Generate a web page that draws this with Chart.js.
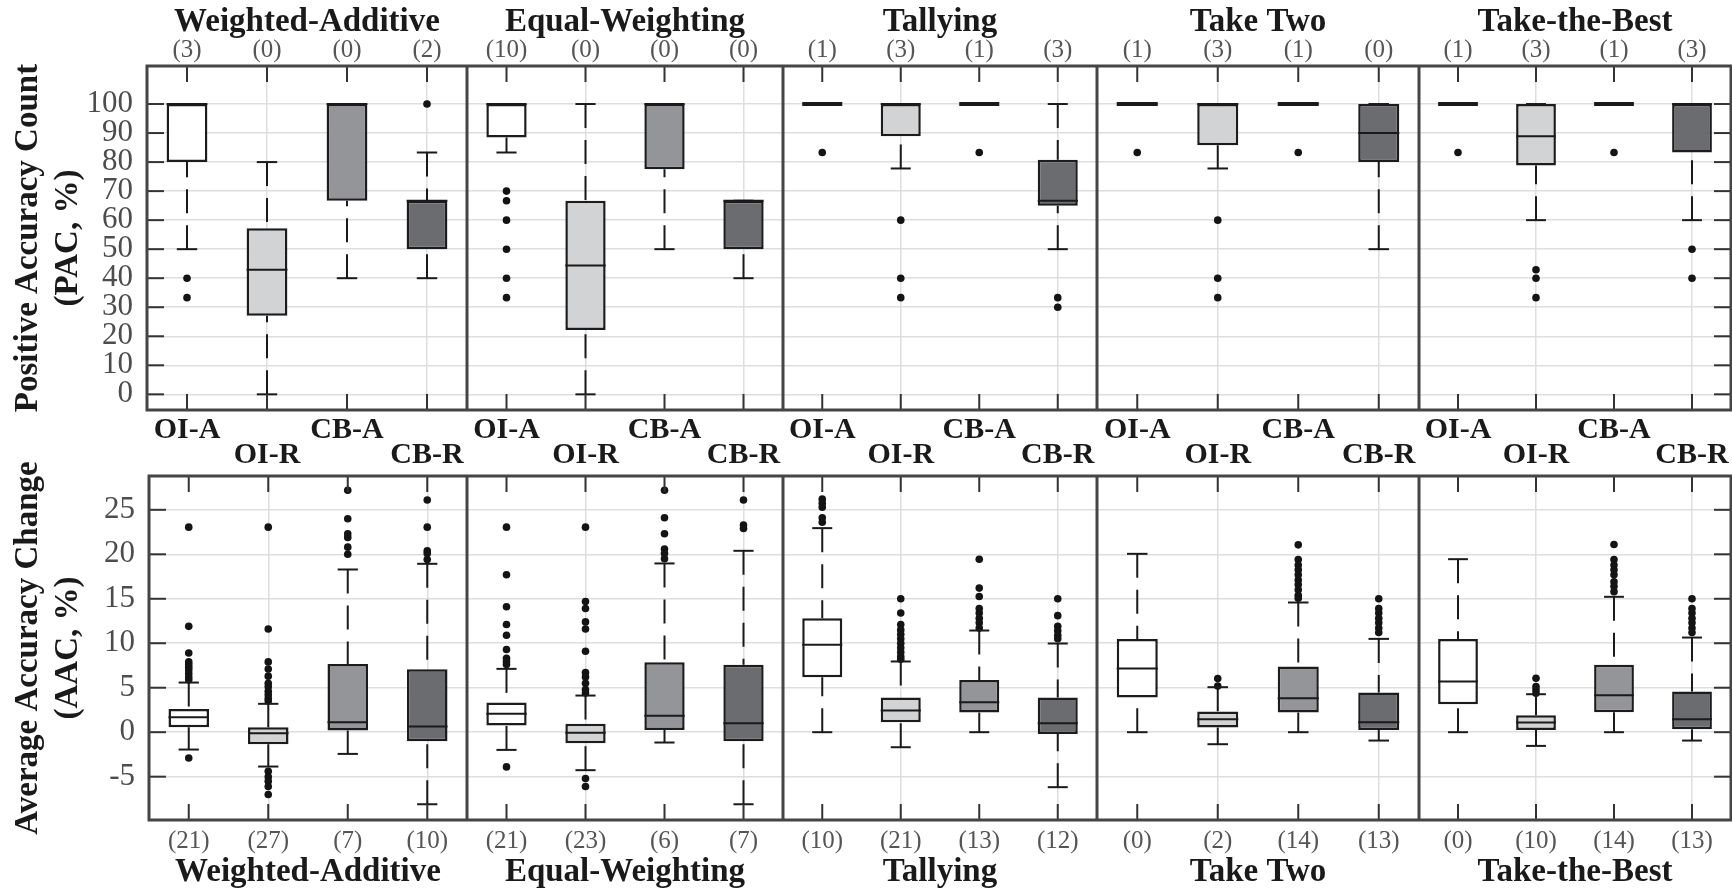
<!DOCTYPE html>
<html>
<head>
<meta charset="utf-8">
<title>PAC / AAC box plots</title>
<script src="https://cdn.jsdelivr.net/npm/chart.js@4.4.1/dist/chart.umd.min.js"></script>
<style>
  html, body { margin: 0; padding: 0; background: #fff; }
  #wrap { position: relative; width: 1732px; height: 890px; overflow: hidden; }
  #wrap canvas { position: absolute; }
</style>
</head>
<body>
<div id="wrap"></div>
<script>
// ---- data ----
const methods = ['Weighted-Additive', 'Equal-Weighting', 'Tallying', 'Take Two', 'Take-the-Best'];
const conditions = ['OI-A', 'OI-R', 'CB-A', 'CB-R'];

// Positive Accuracy Count (top row), one inner array per method
const pacTicks = [0, 10, 20, 30, 40, 50, 60, 70, 80, 90, 100];
const pacQ1 = [[80, 27.1, 66.7, 50], [88.5, 22.2, 77.5, 50], [100, 88.9, 100, 65], [100, 85.8, 100, 80], [100, 78.8, 100, 83.3]];
const pacMedian = [[100, 42.9, 100, 66.7], [100, 44.4, 100, 66.7], [100, 100, 100, 66.7], [100, 100, 100, 90], [100, 88.9, 100, 100]];
const pacQ3 = [[100, 57.2, 100, 66.7], [100, 66.7, 100, 66.7], [100, 100, 100, 80.8], [100, 100, 100, 100], [100, 100, 100, 100]];
const pacLow = [[50, 0, 40, 40], [83.3, 0, 50, 40], [100, 77.8, 100, 50], [100, 77.8, 100, 50], [100, 60, 100, 60]];
const pacHigh = [[100, 80, 100, 83.3], [100, 100, 100, 66.7], [100, 100, 100, 100], [100, 100, 100, 100], [100, 100, 100, 100]];
const pacOutliers = [
  [[40, 33.3], [], [], [100]],
  [[70, 66.7, 60, 50, 40, 33.3], [], [], []],
  [[83.3], [60, 40, 33.3], [83.3], [33.3, 30]],
  [[83.3], [60, 40, 33.3], [83.3], []],
  [[83.3], [42.9, 40, 33.3], [83.3], [50, 40]]
];
const pacCounts = [[3, 0, 0, 2], [10, 0, 0, 0], [1, 3, 1, 3], [1, 3, 1, 0], [1, 3, 1, 3]];

// Average Accuracy Change (bottom row)
const aacTicks = [-5, 0, 5, 10, 15, 20, 25];
const aacQ1 = [[0.56, -1.35, 0.19, -1.01], [0.75, -1.24, 0.26, -1.01], [6.18, 1.12, 2.21, -0.19], [3.9, 0.52, 2.21, 0.26], [3.15, 0.26, 2.25, 0.34]];
const aacMedian = [[1.69, -0.11, 1.12, 0.64], [2.06, -0.07, 1.84, 1.01], [9.82, 2.44, 3.37, 1.01], [7.16, 1.46, 3.82, 1.12], [5.7, 1.09, 4.16, 1.46]];
const aacQ3 = [[2.62, 0.56, 7.68, 7.08], [3.34, 0.94, 7.87, 7.57], [12.82, 3.9, 5.88, 3.9], [10.49, 2.32, 7.38, 4.46], [10.49, 1.91, 7.57, 4.57]];
const aacLow = [[-1.95, -3.86, -2.44, -8.1], [-1.99, -4.27, -1.16, -8.1], [0, -1.69, 0, -6.18], [0, -1.35, 0, -0.94], [0, -1.54, 0, -0.94]];
const aacHigh = [[5.58, 3.19, 18.29, 18.93], [7.12, 4.12, 18.97, 20.39], [22.94, 7.95, 11.43, 9.97], [20.05, 5.06, 14.58, 10.49], [19.45, 4.27, 15.22, 10.64]];
const aacOutliers = [
  [[23.05, 11.9, 8.9, 7.9, 7.6, 7.3, 7.0, 6.6, 6.2, 5.9, -2.9],
   [23.05, 11.6, 7.9, 7.1, 6.3, 5.5, 5.1, 4.6, 4.2, 3.8, 3.5, -4.4, -5.0, -5.5, -6.1, -7.0],
   [27.2, 24.0, 22.3, 21.9, 20.8, 20.0],
   [26.1, 23.05, 20.4, 20.1, 19.4]],
  [[23.05, 17.7, 14.1, 12.1, 10.9, 9.3, 8.3, 7.95, 7.6, -3.9],
   [23.05, 14.7, 13.9, 12.4, 11.6, 9.1, 6.7, 6.2, 5.5, 4.8, 4.4, -5.2, -6.1],
   [27.2, 24.1, 22.3, 20.6, 20.1, 19.5],
   [26.1, 23.3, 22.9]],
  [[26.2, 25.75, 25.3, 24.1, 23.6],
   [15.0, 13.4, 12.1, 11.5, 11.0, 10.5, 10.0, 9.5, 9.0, 8.5, 8.2],
   [19.45, 16.2, 15.25, 13.9, 13.4, 12.8, 12.3, 11.7],
   [15.0, 13.1, 11.9, 11.4, 10.9, 10.5]],
  [[],
   [6.03, 5.2],
   [21.06, 19.4, 18.8, 18.25, 17.7, 17.1, 16.6, 16.0, 15.4, 15.07],
   [15.0, 13.9, 13.4, 12.8, 12.3, 11.7, 11.2]],
  [[],
   [6.07, 5.13, 4.76, 4.39],
   [21.1, 19.4, 18.8, 18.25, 17.7, 16.9, 16.4, 15.8],
   [15.0, 13.9, 13.4, 12.8, 12.3, 11.7, 11.2]]
];
const aacCounts = [[21, 27, 7, 10], [21, 23, 6, 7], [10, 21, 13, 12], [0, 2, 14, 13], [0, 10, 14, 13]];

// ---- styling / layout ----
const fills = ['#ffffff', '#d2d3d5', '#939598', '#6b6c70'];
const panelEdges = [147, 467, 783, 1097, 1419, 1732];

const rows = [
  { q1: pacQ1, med: pacMedian, q3: pacQ3, low: pacLow, high: pacHigh, out: pacOutliers, n: pacCounts,
    ticks: pacTicks, min: -5.4, max: 113.1, yTitle: ['Positive Accuracy Count', '(PAC, %)'] },
  { q1: aacQ1, med: aacMedian, q3: aacQ3, low: aacLow, high: aacHigh, out: aacOutliers, n: aacCounts,
    ticks: aacTicks, min: -9.87, max: 28.8, yTitle: ['Average Accuracy Change', '(AAC, %)'] }
];

Chart.defaults.font.family = "'Liberation Serif', 'Times New Roman', serif";
Chart.defaults.color = '#1a1a1a';

const wrap = document.getElementById('wrap');

function seg(ctx, x1, y1, x2, y2) {
  ctx.beginPath();
  ctx.moveTo(x1, y1);
  ctx.lineTo(x2, y2);
  ctx.stroke();
}

// keep the plot box exactly where the panel is: no extra room for overhanging labels
function noPad(s) {
  s.paddingLeft = 0;
  s.paddingRight = 0;
  s.paddingTop = 0;
  s.paddingBottom = 0;
}

function boxPlugin(r, col) {
  return {
    id: 'boxWhiskers',
    afterDatasetsDraw(chart) {
      const { ctx, scales: { x, y } } = chart;
      const bars = chart.getDatasetMeta(0).data;
      ctx.save();
      ctx.strokeStyle = '#1a1a1a';
      conditions.forEach((c, i) => {
        const cx = x.getPixelForValue(i);
        const w = bars[i].width;
        const lo = r.low[col][i], hi = r.high[col][i];
        const q1 = r.q1[col][i], q3 = r.q3[col][i];
        const yLo = y.getPixelForValue(lo), yHi = y.getPixelForValue(hi);
        ctx.lineWidth = 2;
        ctx.setLineDash([24, 12]);
        if (hi > q3) seg(ctx, cx, yHi, cx, y.getPixelForValue(q3));
        if (lo < q1) seg(ctx, cx, yLo, cx, y.getPixelForValue(q1));
        ctx.setLineDash([]);
        seg(ctx, cx - w / 4, yHi, cx + w / 4, yHi);
        seg(ctx, cx - w / 4, yLo, cx + w / 4, yLo);
        const yMed = y.getPixelForValue(r.med[col][i]);
        ctx.lineWidth = q1 === q3 ? 4 : 2;
        seg(ctx, cx - w / 2, yMed, cx + w / 2, yMed);
      });
      ctx.restore();
    },
    afterDraw(chart) {
      const { ctx, chartArea: a, scales: { x, y } } = chart;
      ctx.save();
      ctx.strokeStyle = '#333';
      ctx.lineWidth = 2;
      x.ticks.forEach((t, i) => {
        const px = x.getPixelForTick(i);
        seg(ctx, px, a.top, px, a.top + 16);
        seg(ctx, px, a.bottom - 16, px, a.bottom);
      });
      y.ticks.forEach(t => {
        const py = y.getPixelForValue(t.value);
        if (col === 0) seg(ctx, a.left, py, a.left + 17, py);
        if (col === methods.length - 1) seg(ctx, a.right - 17, py, a.right, py);
      });
      ctx.strokeStyle = '#454545';
      ctx.lineWidth = 3;
      ctx.strokeRect(a.left, a.top, a.right - a.left, a.bottom - a.top);
      ctx.restore();
    }
  };
}

function makePanel(rowIdx, col) {
  const r = rows[rowIdx];
  const top = rowIdx === 0;
  const left = col === 0 ? 0 : panelEdges[col];
  const width = panelEdges[col + 1] - left;
  const height = top ? 470 : 460;
  const yWidth = col === 0 ? (top ? 147 : 149) : 0;

  const canvas = document.createElement('canvas');
  canvas.width = width;
  canvas.height = height;
  canvas.style.left = left + 'px';
  canvas.style.top = (top ? 0 : 430) + 'px';
  wrap.appendChild(canvas);

  const outliers = conditions.flatMap((c, i) => r.out[col][i].map(v => ({ x: c, y: v })));

  const scales = {
    x: {
      type: 'category',
      labels: conditions,
      position: 'bottom',
      offset: true,
      grid: {
        offset: false,
        drawTicks: false,
        lineWidth: 1.5,
        color: c => (c.index % 2 ? '#dedede' : 'rgba(0,0,0,0)')
      },
      border: { display: false },
      ticks: top
        ? { autoSkip: false, maxRotation: 0, padding: 8, color: '#1a1a1a',
            font: { size: 30, weight: 'bold', lineHeight: '25px' },
            callback: (v, i) => (i % 2 === 0 ? [conditions[i], ''] : ['', conditions[i]]) }
        : { autoSkip: false, maxRotation: 0, padding: 6, color: '#555',
            font: { size: 25 },
            callback: (v, i) => '(' + r.n[col][i] + ')' },
      title: top
        ? { display: false }
        : { display: true, text: methods[col], color: '#1a1a1a',
            font: { size: 33, weight: 'bold', lineHeight: 1 }, padding: { top: 0, bottom: 1 } },
      afterFit: s => { s.height = top ? 60 : 70; noPad(s); }
    },
    y: {
      type: 'linear',
      min: r.min,
      max: r.max,
      afterBuildTicks: s => { s.ticks = r.ticks.map(v => ({ value: v })); },
      grid: { color: '#dedede', lineWidth: 1.5, drawTicks: false },
      border: { display: false },
      ticks: { display: col === 0, autoSkip: false, padding: 14, color: '#4d4d4d', font: { size: 31 } },
      title: { display: col === 0, text: r.yTitle, color: '#1a1a1a',
               font: { size: 33, weight: 'bold', lineHeight: 1.2 }, padding: { top: 9, bottom: 0 } },
      afterFit: s => { s.width = yWidth; noPad(s); }
    }
  };

  if (top) {
    scales.x2 = {
      type: 'category',
      labels: conditions,
      position: 'top',
      offset: true,
      grid: { display: false, drawTicks: false },
      border: { display: false },
      ticks: { autoSkip: false, maxRotation: 0, padding: 1, color: '#555', font: { size: 25 },
               callback: (v, i) => '(' + r.n[col][i] + ')' },
      title: { display: true, text: methods[col], color: '#1a1a1a',
               font: { size: 33, weight: 'bold', lineHeight: 1 }, padding: { top: 6, bottom: 0 } },
      afterFit: s => { s.height = 66; noPad(s); }
    };
  }

  new Chart(canvas, {
    type: 'bar',
    data: {
      labels: conditions,
      datasets: [
        {
          type: 'bar',
          data: conditions.map((c, i) => [r.q1[col][i], r.q3[col][i]]),
          backgroundColor: fills,
          borderColor: '#1c1c1c',
          borderWidth: 2.5,
          borderSkipped: false,
          barPercentage: 0.51,
          categoryPercentage: 1,
          order: 2
        },
        {
          type: 'line',
          data: outliers,
          showLine: false,
          pointRadius: 3.8,
          pointBackgroundColor: '#141414',
          pointBorderWidth: 0,
          order: 1
        }
      ]
    },
    options: {
      responsive: false,
      devicePixelRatio: 1,
      animation: false,
      events: [],
      layout: {
        autoPadding: false,
        padding: { top: top ? 0 : 46, right: col === methods.length - 1 ? 1 : 0, left: 0, bottom: 0 }
      },
      plugins: { legend: { display: false }, tooltip: { enabled: false } },
      scales
    },
    plugins: [boxPlugin(r, col)]
  });
}

rows.forEach((r, rowIdx) => methods.forEach((m, col) => makePanel(rowIdx, col)));
</script>
</body>
</html>
